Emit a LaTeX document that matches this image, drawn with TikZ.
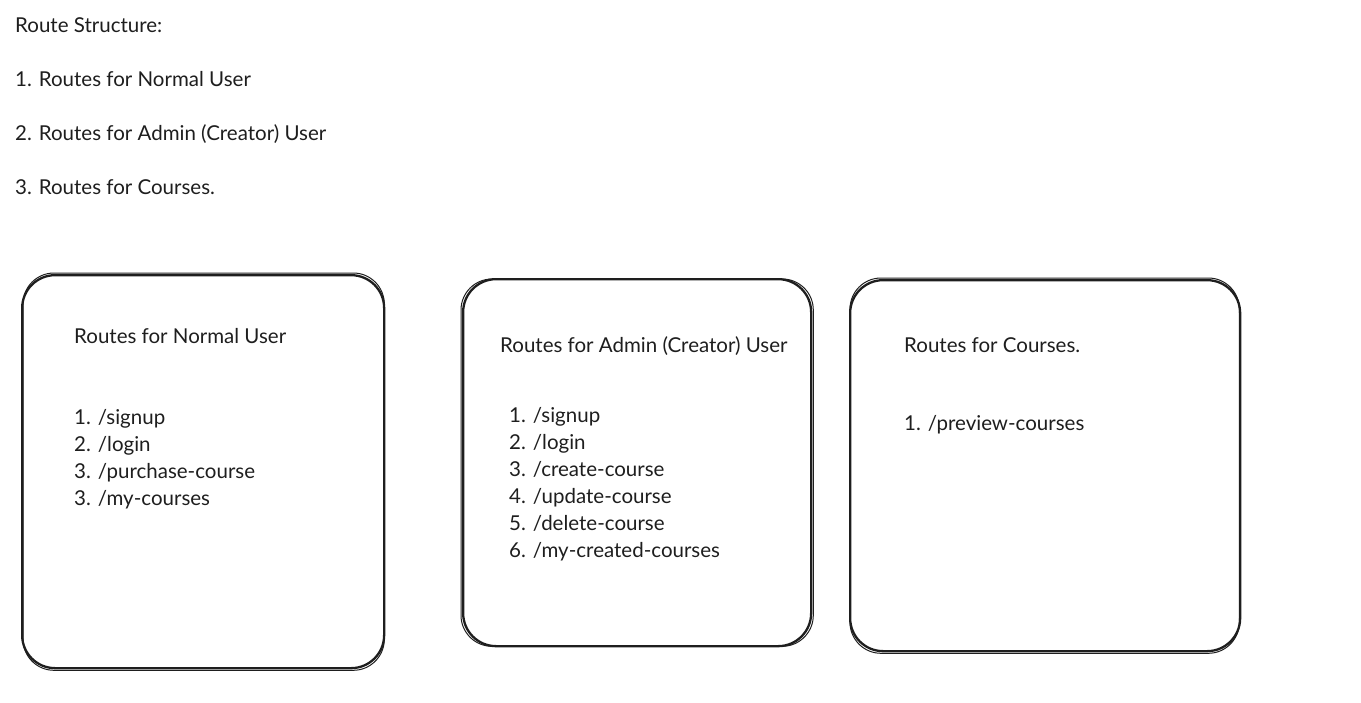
\documentclass[tikz,border=0pt]{standalone}
\usepackage{fontspec}
\setmainfont{Lato}
\usetikzlibrary{positioning,calc}
\definecolor{ink}{RGB}{30,30,30}

\tikzset{
  routebox/.style={draw=ink, line width=2.3pt, rounded corners=33pt, inner sep=0pt, anchor=north west},
  roughline/.style={draw=ink, line width=1pt, rounded corners=31pt},
  plaintext/.style={anchor=base west, inner sep=0pt, text=ink, font=\fontsize{20.5}{26.5}\selectfont}
}

\begin{document}
\begin{tikzpicture}[x=1pt,y=-1pt]
    \useasboundingbox (0,0) rectangle (1361,702);
    % Overview
    \node[plaintext] (heading) at (15,32) {Route Structure:};
    \node[plaintext] (ovnormal) at (15,86) {1. Routes for Normal User};
    \node[plaintext] (ovadmin) at (15,140) {2. Routes for Admin (Creator) User};
    \node[plaintext] (ovcourses) at (15,194) {3. Routes for Courses.};
    % Boxes
    \node[routebox, minimum width=362pt, minimum height=393pt] (normalbox) at (21,274) {};
    \node[routebox, minimum width=348pt, minimum height=367pt] (adminbox) at (462,278) {};
    \node[routebox, minimum width=390pt, minimum height=371pt] (coursebox) at (849,279) {};
    \draw[roughline] ($(normalbox.north west)+(2,-1)$) rectangle ($(normalbox.south east)+(-1,1)$);
    \draw[roughline] ($(adminbox.north west)+(-1,1)$) rectangle ($(adminbox.south east)+(1,-1)$);
    \draw[roughline] ($(coursebox.north west)+(1,-1)$) rectangle ($(coursebox.south east)+(-2,1)$);
    % Normal user
    \node[plaintext] (normaltitle) at (74,343) {Routes for Normal User};
    \foreach \route [count=\i] in {1. /signup, 2. /login, 3. /purchase-course, 3. /my-courses}
        \node[plaintext] (normal\i) at (74,{397+27*\i}) {\route};
    % Admin user
    \node[plaintext] (admintitle) at (500,352) {Routes for Admin (Creator) User};
    \foreach \route [count=\i] in {1. /signup, 2. /login, 3. /create-course, 4. /update-course, 5. /delete-course, 6. /my-created-courses}
        \node[plaintext] (admin\i) at (509,{395+27*\i}) {\route};
    % Courses
    \node[plaintext] (coursetitle) at (904,352) {Routes for Courses.};
    \node[plaintext] (course1) at (904,430) {1. /preview-courses};
\end{tikzpicture}
\end{document}
